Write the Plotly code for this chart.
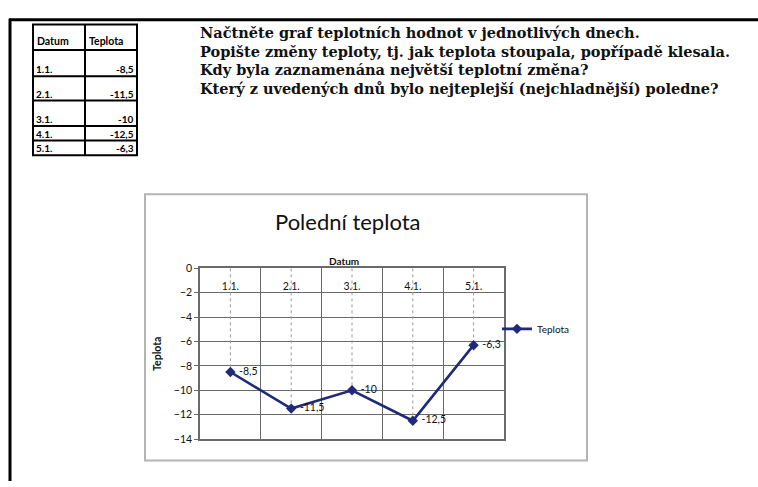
import plotly.graph_objects as go

# ---- data ----
dates = ["1.1.", "2.1.", "3.1.", "4.1.", "5.1."]
temps = [-8.5, -11.5, -10, -12.5, -6.3]
series_name = "Teplota"
table_headers = ["Datum", "Teplota"]
chart_title = "Polední teplota"
x_title = "Datum"
y_title = "Teplota"
y_ticks = [0, -2, -4, -6, -8, -10, -12, -14]
questions = [
    "Načtněte graf teplotních hodnot v jednotlivých dnech.",
    "Popište změny teploty, tj. jak teplota stoupala, popřípadě klesala.",
    "Kdy byla zaznamenána největší teplotní změna?",
    "Který z uvedených dnů bylo nejteplejší (nejchladnější) poledne?",
]

W, H = 758, 487


def px(x):
    return x / W


def py(y):
    return 1 - y / H


def fmt(v):
    return f"{v:g}".replace(".", ",")


labels = [fmt(v) for v in temps]
idx = list(range(len(dates)))

fig = go.Figure()

# drop lines from the category axis (at 0) to each point
dx, dy = [], []
for i, v in zip(idx, temps):
    dx += [i, i, None]
    dy += [0, v, None]
fig.add_trace(go.Scatter(x=dx, y=dy, mode="lines", showlegend=False, hoverinfo="skip",
                         line=dict(color="#9a9a9a", width=1, dash="dot")))

fig.add_trace(go.Scatter(
    x=idx, y=temps, mode="lines+markers+text", name=series_name,
    text=labels, texttemplate=" %{text}", textposition="middle right",
    textfont=dict(family="Lato", size=10.5, color="#111111"),
    line=dict(color="#1f2a7a", width=2.6),
    marker=dict(symbol="diamond", size=8, color="#1f2a7a"),
))

grid_c = "#6a6a6a"
shapes = [
    # page frame
    dict(type="line", xref="paper", yref="paper", x0=px(9), x1=1.0, y0=py(14), y1=py(14),
         line=dict(color="black", width=3)),
    dict(type="line", xref="paper", yref="paper", x0=px(10), x1=px(10), y0=py(13), y1=0,
         line=dict(color="black", width=3)),
    # chart box
    dict(type="rect", xref="paper", yref="paper", x0=px(145), x1=px(587), y0=py(466), y1=py(193),
         line=dict(color="#b4b4b4", width=2), layer="below"),
]

# ---- table (layout geometry) ----
tbl_left, tbl_mid, tbl_right = 33, 85, 137
row_lines = [19, 45, 72, 97, 123, 138, 153]
for yl in row_lines:
    shapes.append(dict(type="line", xref="paper", yref="paper", x0=px(tbl_left - 1), x1=px(tbl_right + 1),
                       y0=py(yl), y1=py(yl), line=dict(color="black", width=2)))
for xl in (tbl_left, tbl_mid, tbl_right):
    shapes.append(dict(type="line", xref="paper", yref="paper", x0=px(xl), x1=px(xl),
                       y0=py(row_lines[0]), y1=py(row_lines[-1]), line=dict(color="black", width=2)))

annotations = []
hfont = dict(family="Lato", size=10.5, color="black")
tfont = dict(family="Lato", size=10, color="black")
annotations.append(dict(text="<b>" + table_headers[0] + "</b>", x=px(tbl_left + 2), y=py(row_lines[1] - 9),
                        xanchor="left", yanchor="middle", font=hfont))
annotations.append(dict(text="<b>" + table_headers[1] + "</b>", x=px(tbl_mid + 2), y=py(row_lines[1] - 9),
                        xanchor="left", yanchor="middle", font=hfont))
for r, (d, lab) in enumerate(zip(dates, labels)):
    yb = row_lines[r + 2] - 7
    annotations.append(dict(text="<b>" + d + "</b>", x=px(tbl_left + 1), y=py(yb),
                            xanchor="left", yanchor="middle", font=tfont))
    annotations.append(dict(text="<b>" + lab + "</b>", x=px(tbl_right - 1), y=py(yb),
                            xanchor="right", yanchor="middle", font=tfont))

annotations.append(dict(text=chart_title, x=px(348), y=py(221), xanchor="center", yanchor="middle",
                        font=dict(family="Lato", size=22, color="#111")))

for k, q in enumerate(questions):
    annotations.append(dict(text="<b>" + q + "</b>", x=px(198), y=py(27 + k * 19.3),
                            xanchor="left", yanchor="middle",
                            font=dict(family="DejaVu Serif", size=14.5, color="#111")))

for a in annotations:
    a.update(xref="paper", yref="paper", showarrow=False)

# category axis title above the plot area
annotations.append(dict(text="<b>" + x_title + "</b>", xref="x domain", yref="y domain",
                        x=0.475, y=1, xanchor="center", yanchor="bottom", yshift=-1,
                        showarrow=False, font=dict(family="Lato", size=10, color="#111")))

fig.update_layout(
    width=W, height=H, autosize=False,
    margin=dict(l=0, r=0, t=0, b=0),
    paper_bgcolor="white", plot_bgcolor="white",
    showlegend=True,
    legend=dict(x=px(497), y=py(331), xanchor="left", yanchor="middle",
                font=dict(family="Lato", size=10, color="#111"),
                bgcolor="rgba(0,0,0,0)", itemwidth=30),
    xaxis=dict(
        domain=[px(200), px(504)], range=[-0.5, 4.5], side="top",
        tickmode="array", tickvals=idx, ticktext=dates,
        ticklabelposition="inside", ticklabelstandoff=14,
        ticks="", showgrid=False, zeroline=False, ticklabeloverflow="allow",
        tickfont=dict(family="Lato", size=10.5, color="#111"),
        showline=True, linecolor=grid_c, linewidth=1.5, mirror=True,
        minor=dict(tickmode="array", tickvals=[0.5, 1.5, 2.5, 3.5], showgrid=True,
                   gridcolor=grid_c, gridwidth=1.3, ticks=""),
        fixedrange=True,
    ),
    yaxis=dict(
        domain=[py(444), py(269)], range=[-14, 0],
        tickmode="array", tickvals=y_ticks, ticklabeloverflow="allow",
        showgrid=True, gridcolor=grid_c, gridwidth=1.3, zeroline=False,
        ticks="outside", ticklen=4, tickcolor=grid_c,
        tickfont=dict(family="Lato", size=10.5, color="#111"),
        showline=True, linecolor=grid_c, linewidth=1.5, mirror=True,
        title=dict(text="<b>" + y_title + "</b>", standoff=10,
                   font=dict(family="Lato", size=10.5, color="#111")),
        fixedrange=True,
    ),
    shapes=shapes,
    annotations=annotations,
)

fig.write_html("out.html", config={"displayModeBar": False},
               post_script="document.body.style.margin='0';document.body.style.padding='0';")
